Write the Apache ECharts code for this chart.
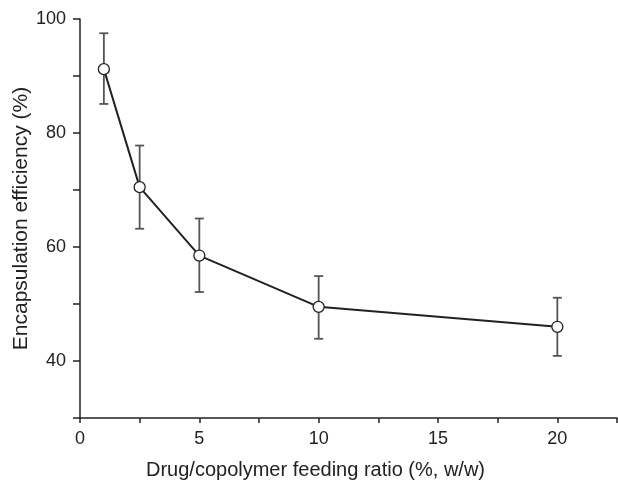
<!DOCTYPE html>
<html>
<head>
<meta charset="utf-8">
<script src="https://cdn.jsdelivr.net/npm/echarts@6/dist/echarts.min.js"></script>
<style>
  html, body { margin: 0; padding: 0; background: #fff; }
  #main { width: 618px; height: 480px; }
</style>
</head>
<body>
<div id="main"></div>
<script>
  // feeding ratio (%, w/w) and encapsulation efficiency (%)
  const ratios = [1, 2.5, 5, 10, 20]
  const efficiency = [91.2, 70.5, 58.5, 49.5, 46.0]
  const errLow = [85.1, 63.2, 52.1, 43.9, 40.9]
  const errHigh = [97.5, 77.8, 65.0, 54.9, 51.1]

  const xLabels = [0, 5, 10, 15, 20]
  const yLabels = [40, 60, 80, 100]

  const font = 'Liberation Sans, Arial, sans-serif'
  const ink = '#222'

  let chart = echarts.init(document.getElementById('main'))

  let errData = ratios.map((r, i) => [r, errLow[i], errHigh[i]])

  chart.setOption({
    animation: false,
    grid: { left: 80, right: 1, top: 19, bottom: 62, containLabel: false, outerBoundsMode: 'none' },
    xAxis: {
      type: 'value',
      min: 0,
      max: 22.5,
      interval: 2.5,
      name: 'Drug/copolymer feeding ratio (%, w/w)',
      nameLocation: 'middle',
      nameGap: 42,
      nameMoveOverlap: false,
      nameTextStyle: { fontFamily: font, fontSize: 20, color: ink, padding: [0, 66, 0, 0] },
      axisLine: { lineStyle: { color: ink, width: 1.5 } },
      axisTick: { length: 5, lineStyle: { color: ink, width: 1.5 } },
      axisLabel: {
        margin: 12,
        fontFamily: font, fontSize: 18, color: ink,
        formatter: v => xLabels.includes(v) ? String(v) : ''
      },
      splitLine: { show: false }
    },
    yAxis: {
      type: 'value',
      min: 30,
      max: 100,
      interval: 10,
      name: 'Encapsulation efficiency (%)',
      nameLocation: 'middle',
      nameGap: 48,
      nameMoveOverlap: false,
      nameTextStyle: { fontFamily: font, fontSize: 21, color: ink },
      axisLine: { show: true, lineStyle: { color: ink, width: 1.5 } },
      axisTick: { show: true, length: 7, lineStyle: { color: ink, width: 1.5 } },
      axisLabel: {
        margin: 14,
        fontFamily: font, fontSize: 18, color: ink,
        formatter: v => yLabels.includes(v) ? String(v) : ''
      },
      splitLine: { show: false }
    },
    series: [
      {
        type: 'custom',
        data: errData,
        z: 1,
        renderItem: function (params, api) {
          let x = api.value(0)
          let lo = api.coord([x, api.value(1)])
          let hi = api.coord([x, api.value(2)])
          let w = 4.5
          let st = { stroke: '#555', lineWidth: 1.8 }
          return {
            type: 'group',
            children: [
              { type: 'line', shape: { x1: lo[0], y1: lo[1], x2: hi[0], y2: hi[1] }, style: st },
              { type: 'line', shape: { x1: lo[0] - w, y1: lo[1], x2: lo[0] + w, y2: lo[1] }, style: st },
              { type: 'line', shape: { x1: hi[0] - w, y1: hi[1], x2: hi[0] + w, y2: hi[1] }, style: st }
            ]
          }
        }
      },
      {
        type: 'line',
        data: ratios.map((r, i) => [r, efficiency[i]]),
        z: 2,
        symbol: 'circle',
        symbolSize: 11,
        showAllSymbol: true,
        lineStyle: { color: ink, width: 2 },
        itemStyle: { color: '#fff', borderColor: ink, borderWidth: 1.3 }
      }
    ]
  })
</script>
</body>
</html>
